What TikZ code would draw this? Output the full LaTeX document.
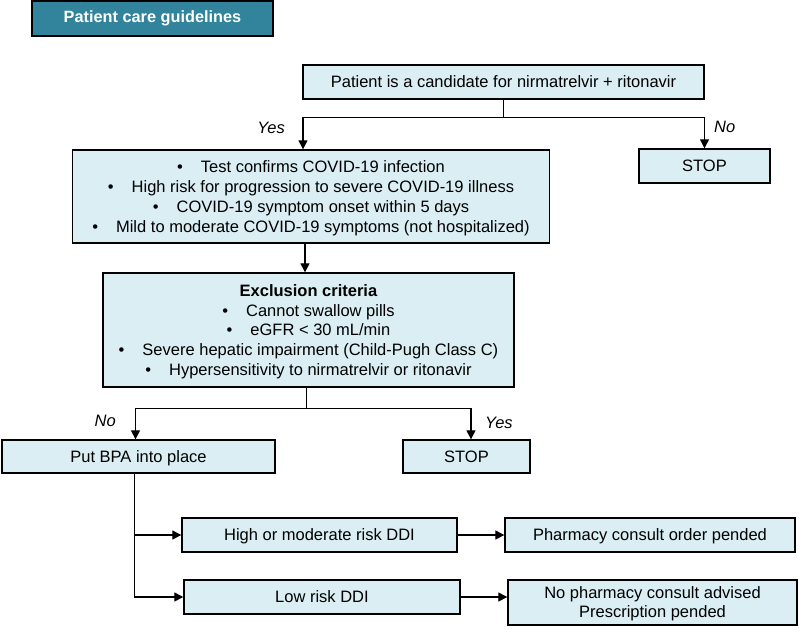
\documentclass[tikz,border=0pt]{standalone}
\usepackage{fontspec}
\setmainfont{Liberation Sans}
\usetikzlibrary{arrows.meta}
\usetikzlibrary{positioning}
\definecolor{boxblue}{HTML}{DAEEF3}
\definecolor{headteal}{HTML}{31849B}
\tikzset{box/.style = {draw, fill = boxblue, line width = 1.4, inner sep = 0, align = center,
                       text depth = 0, font = \fontsize{16.5}{19}\selectfont}}
\tikzset{head/.style = {draw, fill = headteal, line width = 1.6, inner sep = 0, text = white,
                        font = \fontsize{16.3}{19}\selectfont\bfseries}}
\tikzset{lbl/.style = {inner sep = 0, font = \fontsize{16.5}{19}\selectfont\itshape}}
\tikzset{arr/.style = {line width = 1.3, -{Triangle[length = 9, width = 9]}}}
\newcommand{\bul}{\textbullet\hspace{18pt}}

\begin{document}
\begin{tikzpicture}[x = 1pt, y = -1pt]
      \useasboundingbox (0, 0) rectangle (799, 635);

      \node [head, minimum width = 241, minimum height = 35] (title) at (152.5, 18.5) {Patient care guidelines};

      \node [box, minimum width = 401, minimum height = 34] (cand) at (503.5, 82) {Patient is a candidate for nirmatrelvir + ritonavir};
      \node [box, minimum width = 477, minimum height = 93, font = \fontsize{16.5}{20}\selectfont] (crit) at (311, 196.5)
            {\bul Test confirms COVID-19 infection\\
             \bul High risk for progression to severe COVID-19 illness\\
             \bul COVID-19 symptom onset within 5 days\\
             \bul Mild to moderate COVID-19 symptoms (not hospitalized)};
      \node [box, minimum width = 131, minimum height = 34] (stop1) at (704.5, 166) {STOP};

      \node [box, minimum width = 411, minimum height = 114, font = \fontsize{16.5}{19.8}\selectfont] (excl) at (308.5, 330)
            {\textbf{Exclusion criteria}\\
             \bul Cannot swallow pills\\
             \bul eGFR < 30 mL/min\\
             \bul Severe hepatic impairment (Child-Pugh Class C)\\
             \bul Hypersensitivity to nirmatrelvir or ritonavir};

      \node [box, minimum width = 273, minimum height = 33] (bpa) at (138.5, 456.5) {Put BPA into place};
      \node [box, minimum width = 127, minimum height = 33] (stop2) at (466.5, 456.5) {STOP};

      \node [box, minimum width = 275, minimum height = 34] (hm) at (319.5, 535) {High or moderate risk DDI};
      \node [box, minimum width = 276, minimum height = 34] (low) at (322, 597) {Low risk DDI};
      \node [box, minimum width = 290, minimum height = 34] (pharm) at (650, 535) {Pharmacy consult order pended};
      \node [box, minimum width = 289, minimum height = 45] (nopharm) at (652.5, 602.5)
            {No pharmacy consult advised\\Prescription pended};

      % decision labels
      \node [lbl, anchor = east] (yes1) at (285, 128) {Yes};
      \node [lbl, anchor = west] (no1) at (714, 127) {No};
      \node [lbl, anchor = east] (no2) at (116, 421) {No};
      \node [lbl, anchor = west] (yes2) at (485, 423) {Yes};

      \draw [arr] (cand.south) -- ++(0, 18) -| ([xshift = -8]crit.north);
      \draw [arr] (cand.south) -- ++(0, 18) -| (stop1.north);
      \draw [arr] ([xshift = -6]crit.south) -- ([xshift = -6]crit.south |- excl.north);
      \draw [arr] ([xshift = -2]excl.south) -- ++(0, 21) -| ([xshift = -3]bpa.north);
      \draw [arr] ([xshift = -2]excl.south) -- ++(0, 21) -| ([xshift = 4.5]stop2.north);
      \draw [arr] ([xshift = -4]bpa.south) |- (hm.west);
      \draw [arr] ([xshift = -4]bpa.south) |- (low.west);
      \draw [arr] (hm.east) -- (pharm.west);
      \draw [arr] (low.east) -- (low.east -| nopharm.west);
    \end{tikzpicture}
\end{document}
